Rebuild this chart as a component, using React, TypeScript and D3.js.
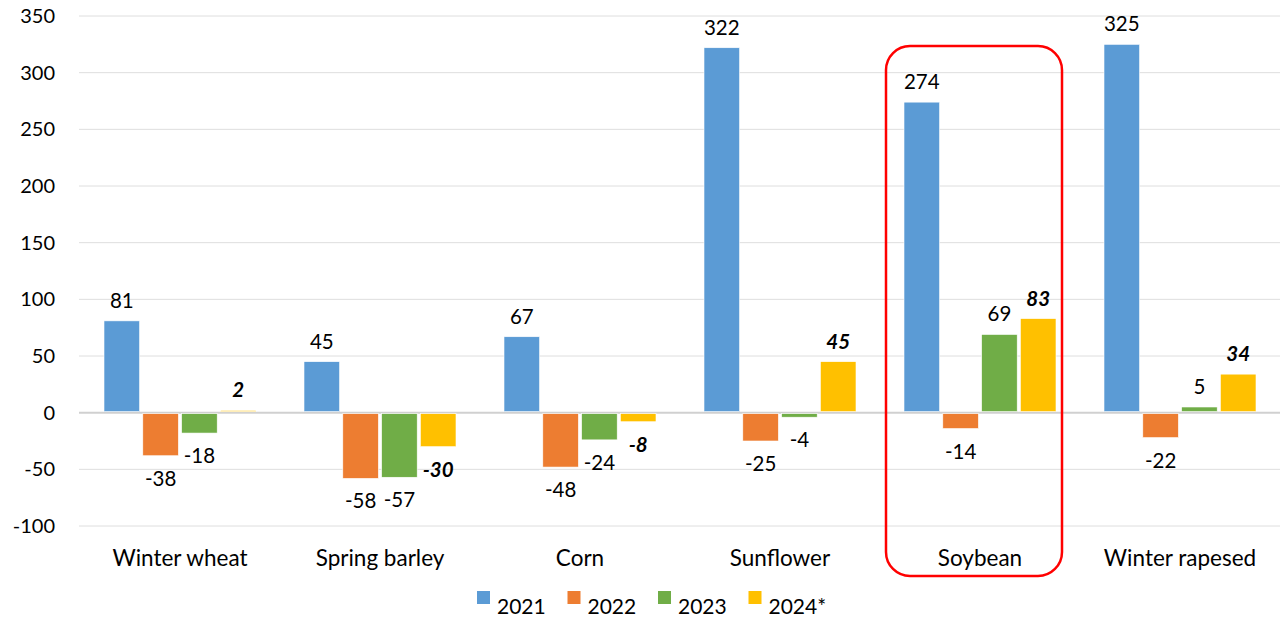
import React from "react";
import * as d3 from "d3";

const crops = ["Winter wheat", "Spring barley", "Corn", "Sunflower", "Soybean", "Winter rapesed"];
const years = ["2021", "2022", "2023", "2024*"];
const v2021 = [81, 45, 67, 322, 274, 325];
const v2022 = [-38, -58, -48, -25, -14, -22];
const v2023 = [-18, -57, -24, -4, 69, 5];
const v2024 = [2, -30, -8, 45, 83, 34];
const yTicks = [-100, -50, 0, 50, 100, 150, 200, 250, 300, 350];
const colors = ["#5B9BD5", "#ED7D31", "#70AD47", "#FFC000"];
const highlighted = "Soybean";

const W = 1283, H = 621;
const FONT = "Lato, 'Open Sans', sans-serif";

export default function App() {
    const series = [v2021, v2022, v2023, v2024];

    const x0 = d3.scaleBand().domain(crops).range([80, 1280]).paddingInner(0.24).paddingOuter(0.12);
    const x1 = d3.scaleBand().domain(years).range([0, x0.bandwidth()]).paddingInner(0.083);
    const y = d3.scaleLinear().domain([-100, 350]).range([526, 16]);

    const hx = x0(highlighted);

    return (
        <svg width={W} height={H} style={{ position: "absolute", left: 0, top: 0, background: "#fff" }}
            fontFamily={FONT}>
            {/* grid */}
            {yTicks.map(t => (
                <g key={t}>
                    <line x1={79} x2={1280} y1={y(t)} y2={y(t)}
                        stroke={t === 0 ? "#d0d0d0" : "#dedede"} strokeWidth={t === 0 ? 2 : 1} />
                    <text x={55} y={y(t)} dy="0.35em" textAnchor="end" fontSize={20} fill="#000">{t}</text>
                </g>
            ))}

            {/* bars + labels */}
            {crops.map((c, i) => (
                <g key={c} transform={"translate(" + x0(c) + ",0)"}>
                    {years.map((yr, j) => {
                        const v = series[j][i];
                        const h = Math.abs(y(v) - y(0));
                        const cx = x1(yr) + x1.bandwidth() / 2;
                        const bold = j === 3;
                        return (
                            <g key={yr}>
                                <rect x={x1(yr)} y={v >= 0 ? y(v) : y(0) + 1} width={x1.bandwidth()}
                                    height={h - 1} fill={colors[j]} stroke="#fff" strokeWidth={0.6} />
                                <text x={cx} y={v >= 0 ? y(v) - 13 : y(v) + 30} textAnchor="middle"
                                    fontSize={20.5} fill="#000"
                                    fontWeight={bold ? "bold" : "normal"} fontStyle={bold ? "italic" : "normal"}>
                                    {v}
                                </text>
                            </g>
                        );
                    })}
                    <text x={x0.bandwidth() / 2} y={566} textAnchor="middle" fontSize={22.5} fill="#000">{c}</text>
                </g>
            ))}

            {/* highlight box */}
            <rect x={hx - 18} y={46} width={x0.bandwidth() + 24} height={530} rx={24} ry={24}
                fill="none" stroke="#ff0000" strokeWidth={2.5} />

            {/* legend */}
            {years.map((yr, j) => (
                <g key={yr} transform={"translate(" + (477 + j * 90.5) + ",0)"}>
                    <rect x={0} y={591} width={13} height={13} fill={colors[j]} />
                    <text x={20} y={614} fontSize={21} fill="#000">{yr}</text>
                </g>
            ))}
        </svg>
    );
}
